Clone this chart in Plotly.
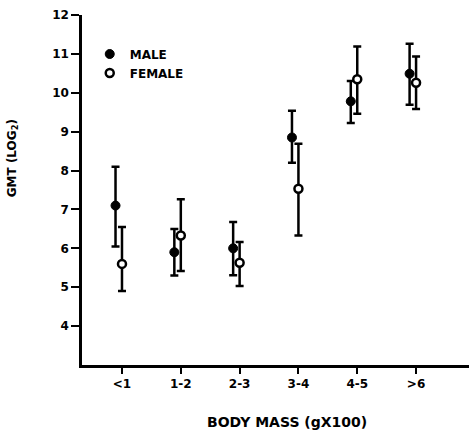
import plotly.graph_objects as go

categories = ["<1", "1-2", "2-3", "3-4", "4-5", ">6"]
male_mean = [7.1, 5.9, 6.0, 8.85, 9.78, 10.49]
male_upper = [8.1, 6.5, 6.68, 9.54, 10.3, 11.26]
male_lower = [6.05, 5.3, 5.31, 8.2, 9.22, 9.69]
female_mean = [5.6, 6.33, 5.63, 7.53, 10.35, 10.26]
female_upper = [6.55, 7.26, 6.16, 8.69, 11.19, 10.93]
female_lower = [4.9, 5.42, 5.03, 6.33, 9.46, 9.58]
y_ticks = [4, 5, 6, 7, 8, 9, 10, 11, 12]

MALE_OFFSET = -0.11
FEMALE_OFFSET = 0.0

idx = list(range(len(categories)))
font_family = "DejaVu Sans"

def err(mean, up, lo):
    return ([u - m for u, m in zip(up, mean)], [m - l for m, l in zip(mean, lo)])

mu, ml = err(male_mean, male_upper, male_lower)
fu, fl = err(female_mean, female_upper, female_lower)

fig = go.Figure()
fig.add_trace(go.Scatter(
    x=[i + MALE_OFFSET for i in idx], y=male_mean, mode="markers", name="MALE",
    marker=dict(symbol="circle", size=9, color="black", line=dict(color="black", width=1)),
    error_y=dict(type="data", symmetric=False, array=mu, arrayminus=ml,
                 color="black", thickness=2.5, width=4),
))
fig.add_trace(go.Scatter(
    x=[i + FEMALE_OFFSET for i in idx], y=female_mean, mode="markers", name="FEMALE",
    marker=dict(symbol="circle", size=8, color="white", line=dict(color="black", width=2.5)),
    error_y=dict(type="data", symmetric=False, array=fu, arrayminus=fl,
                 color="black", thickness=2.5, width=4),
))

fig.update_layout(
    width=469, height=432,
    margin=dict(l=82, r=0, t=15, b=67),
    paper_bgcolor="white", plot_bgcolor="white",
    font=dict(family=font_family, size=12, color="black", weight="bold"),
    showlegend=True,
    legend=dict(x=0.02, y=0.93, xanchor="left", yanchor="top",
                bgcolor="rgba(0,0,0,0)", itemwidth=30,
                font=dict(family=font_family, size=12, color="black", weight="bold"),
                tracegroupgap=0),
    xaxis=dict(
        range=[-0.68, 5.9], tickmode="array", tickvals=idx, ticktext=categories,
        showline=True, linecolor="black", linewidth=2.5, ticks="outside",
        ticklen=6, tickwidth=2, tickcolor="black", showgrid=False, zeroline=False,
        tickfont=dict(family=font_family, size=12, color="black", weight="bold"),
    ),
    yaxis=dict(
        range=[3, 12], tickmode="array", tickvals=y_ticks,
        showline=True, linecolor="black", linewidth=2.5, ticks="outside",
        ticklen=8, tickwidth=2, tickcolor="black", showgrid=False, zeroline=False,
        tickfont=dict(family=font_family, size=12, color="black", weight="bold"),
    ),
    annotations=[
        dict(text="GMT (LOG<sub>2</sub>)", xref="paper", yref="paper",
             x=-0.178, y=0.591, xanchor="center", yanchor="middle",
             textangle=-90, showarrow=False,
             font=dict(family=font_family, size=12, color="black", weight="bold")),
        dict(text="BODY MASS (gX100)", xref="paper", yref="paper",
             x=0.53, y=-0.163, xanchor="center", yanchor="middle", showarrow=False,
             font=dict(family=font_family, size=14, color="black", weight="bold")),
    ],
)

fig.write_html("out.html", config={"displayModeBar": False},
               post_script="document.body.style.margin='0px';")
